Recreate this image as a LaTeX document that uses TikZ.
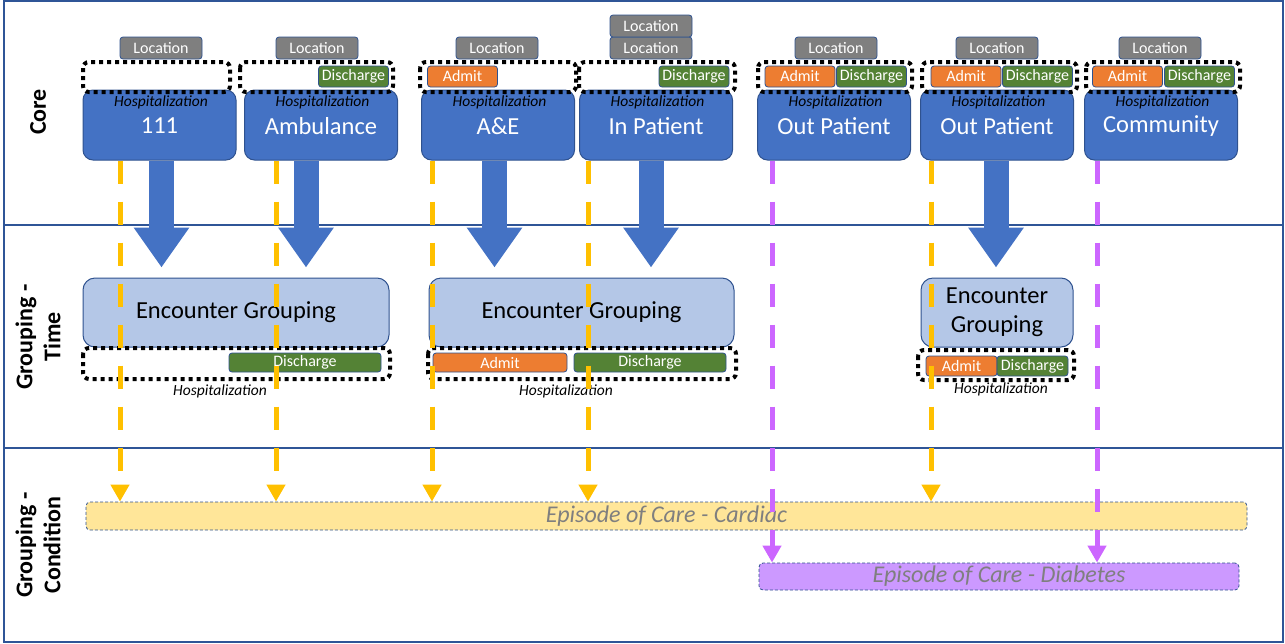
\documentclass[tikz,border=0pt]{standalone}
\usepackage{fontspec}
\setmainfont{Carlito}
\usetikzlibrary{arrows.meta}
\definecolor{laneblue}{HTML}{2F5597}
\definecolor{edgeblue}{HTML}{2F528F}
\definecolor{coreblue}{HTML}{4472C4}
\definecolor{grpblue}{HTML}{B4C7E7}
\definecolor{locgray}{HTML}{7F7F7F}
\definecolor{admitor}{HTML}{ED7D31}
\definecolor{dischgr}{HTML}{548235}
\definecolor{cardyel}{HTML}{FFE699}
\definecolor{diablil}{HTML}{CC99FF}
\definecolor{lineyel}{HTML}{FFC000}
\definecolor{linepur}{HTML}{CC66FF}
\tikzset{
  lane/.style={draw=laneblue, line width=2pt},
  lanelabel/.style={rotate=90, align=center, font=\fontsize{24}{28}\selectfont\bfseries},
  corebox/.style={draw=edgeblue, fill=coreblue, line width=1pt, rounded corners=10pt, minimum width=153pt, minimum height=70pt},
  corelabel/.style={text=white, inner sep=0pt, font=\fontsize{24.5}{28}\selectfont},
  hosptext/.style={inner sep=0pt, font=\fontsize{15.5}{17}\selectfont\itshape},
  locbox/.style={draw=edgeblue, fill=locgray, text=white, line width=0.8pt, rounded corners=3pt, minimum width=82pt, minimum height=22pt, inner sep=0pt, font=\fontsize{16}{18}\selectfont},
  tagbox/.style={draw=edgeblue, text=white, line width=0.8pt, rounded corners=3pt, minimum height=21pt, inner sep=0pt, font=\fontsize{16}{18}\selectfont},
  admitbox/.style={tagbox, fill=admitor},
  dischbox/.style={tagbox, fill=dischgr},
  hospbox/.style={draw=black, line width=4pt, dash pattern=on 4pt off 4pt, rounded corners=6pt},
  grpbox/.style={draw=edgeblue, fill=grpblue, line width=1pt, rounded corners=12pt, minimum height=69pt, align=center, font=\fontsize{24.5}{29}\selectfont},
  episode/.style={draw=edgeblue, line width=0.8pt, dash pattern=on 3pt off 2pt, rounded corners=4pt, text=locgray, inner sep=0pt, font=\fontsize{24}{26}\selectfont\itshape},
  bigarrow/.style={draw=coreblue, line width=25pt, -{Triangle[width=53pt,length=40pt]}, shorten >=10pt},
  flowline/.style={line width=5pt, dash pattern=on 23pt off 18pt, -{Triangle[width=18pt,length=17pt]}},
  cardline/.style={flowline, draw=lineyel},
  diabline/.style={flowline, draw=linepur}
}
\begin{document}
\begin{tikzpicture}[x=1pt,y=-1pt]
  \useasboundingbox (0,0) rectangle (1285,643);
  \draw[lane] (4,1) rectangle (1283,642);
  \draw[lane] (4,225) -- (1283,225);
  \draw[lane] (4,448) -- (1283,448);
  \node[lanelabel] (lcore) at (38,112) {Core};
  \node[lanelabel] (ltime) at (38,337) {Grouping -\\Time};
  \node[lanelabel] (lcond) at (38,545) {Grouping -\\Condition};

  \foreach \i/\x/\l/\t in {1/159.5/161/111,2/321/317/Ambulance,3/498/497/A\&E,4/656/651/In Patient,5/834/836/Out Patient,6/997/997/Out Patient,7/1161/1160/Community} {
    \node[corebox] (core\i) at (\x,125) {};
    \node[hosptext] (chosp\i) at (\x+1.5,102) {Hospitalization};
    \node[corelabel] (clab\i) at (\x,126) {\t};
    \node[locbox] (loc\i) at (\l,48) {Location};
  }
  \node[locbox] (loc8) at (651,26) {Location};
  \foreach \xa/\xb in {83/230,240/393,420/576,579/735,758/912,922/1077,1086/1240} {
    \draw[hospbox] (\xa,62) rectangle (\xb,92);
  }
  \foreach \i/\x in {3/462.5,5/800,6/966,7/1127.5} {
    \node[admitbox, minimum width=70pt] (cadm\i) at (\x,76.5) {Admit};
  }
  \foreach \i/\x in {2/353.5,4/694,5/871.5,6/1037.5,7/1199.5} {
    \node[dischbox, minimum width=70pt] (cdis\i) at (\x,76.5) {Discharge};
  }

  \node[grpbox, minimum width=306pt] (grp1) at (236,312.5) {Encounter Grouping};
  \node[grpbox, minimum width=305pt] (grp2) at (581.5,312.5) {Encounter Grouping};
  \node[grpbox, minimum width=152pt] (grp3) at (997,312.5) {Encounter\\Grouping};
  \draw[hospbox] (83,348) rectangle (390,379);
  \draw[hospbox] (428,348) rectangle (736,379);
  \draw[hospbox] (918,350) rectangle (1074,380);
  \node[dischbox, minimum width=152pt, minimum height=19pt] (gdis1) at (305,362.5) {Discharge};
  \node[admitbox, minimum width=134pt, minimum height=19pt] (gadm2) at (500,362.5) {Admit};
  \node[dischbox, minimum width=152pt, minimum height=19pt] (gdis2) at (650,362.5) {Discharge};
  \node[admitbox, minimum width=71pt, minimum height=20pt] (gadm3) at (961.5,366) {Admit};
  \node[dischbox, minimum width=71pt, minimum height=20pt] (gdis3) at (1032.5,366) {Discharge};
  \node[hosptext] (ghosp1) at (220,391) {Hospitalization};
  \node[hosptext] (ghosp2) at (566,391) {Hospitalization};
  \node[hosptext] (ghosp3) at (1001,389) {Hospitalization};

  \node[episode, fill=cardyel, minimum width=1161pt, minimum height=28pt] (card) at (666.5,516) {Episode of Care - Cardiac};
  \node[episode, fill=diablil, minimum width=480pt, minimum height=27pt] (diab) at (999,576.5) {Episode of Care - Diabetes};

  \foreach \c/\g/\x in {core1/grp1/161.5,core2/grp1/306,core3/grp2/494.5,core4/grp2/651,core6/grp3/996} {
    \draw[bigarrow] (\c.south -| \x,0) -- (\g.north -| \x,0);
  }
  \foreach \c/\x in {core1/120,core2/276,core3/432,core4/588,core6/931} {
    \draw[cardline] (\c.south -| \x,0) -- (card.north -| \x,0);
  }
  \foreach \c/\x in {core5/772,core7/1097} {
    \draw[diabline] (\c.south -| \x,0) -- (diab.north -| \x,0);
  }
\end{tikzpicture}
\end{document}
